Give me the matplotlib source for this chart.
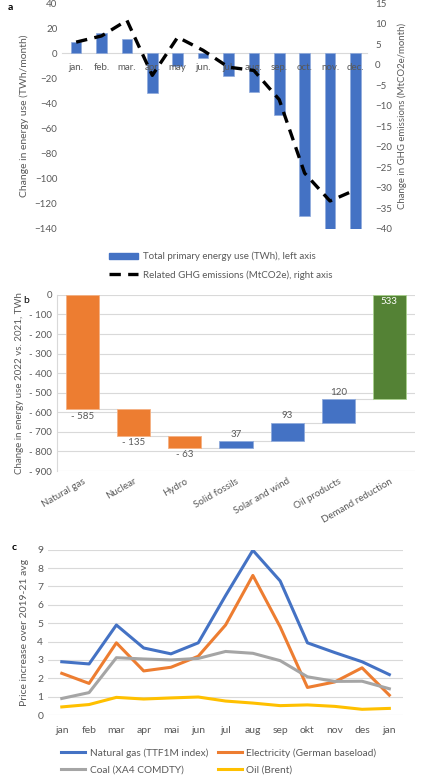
import matplotlib
matplotlib.use("Agg")
import matplotlib.pyplot as plt
from matplotlib.lines import Line2D
from matplotlib.patches import Patch

plt.rcParams['font.family'] = ['Lato', 'DejaVu Sans']

# --- panel a data
months_a = ['jan.', 'feb.', 'mar.', 'apr.', 'may', 'jun.', 'jul.', 'aug.', 'sep.', 'oct.', 'nov.', 'dec.']
energy_twh = [9, 16, 11, -32, -10, -4, -18, -31, -49, -130, -140, -140]
ghg_mt = [5.5, 7.0, 10.8, -2.6, 6.7, 3.5, -0.6, -1.4, -8.5, -26.4, -33.2, -30.5]

# --- panel b data
sources = ['Natural gas', 'Nuclear', 'Hydro', 'Solid fossils', 'Solar and wind',
           'Oil products', 'Demand reduction']
deltas = [-585, -135, -63, 37, 93, 120, 533]

# --- panel c data
months_c = ['jan', 'feb', 'mar', 'apr', 'mai', 'jun', 'jul', 'aug', 'sep', 'okt', 'nov', 'des', 'jan']
gas = [2.9, 2.78, 4.9, 3.65, 3.33, 3.93, 6.5, 8.97, 7.3, 3.93, 3.4, 2.9, 2.2]
power = [2.27, 1.72, 3.93, 2.4, 2.6, 3.2, 4.9, 7.6, 4.8, 1.5, 1.8, 2.57, 1.08]
coal = [0.9, 1.22, 3.12, 3.05, 3.0, 3.08, 3.46, 3.36, 2.96, 2.08, 1.83, 1.84, 1.43]
oil = [0.44, 0.57, 0.96, 0.87, 0.93, 0.98, 0.76, 0.65, 0.51, 0.55, 0.47, 0.31, 0.36]

BLUE = '#4472C4'
ORANGE = '#ED7D31'
GREEN = '#548235'
GREY = '#A5A5A5'
GOLD = '#FFC000'
TXT = '#595959'
GRID = '#D9D9D9'

fig = plt.figure(figsize=(4.26, 7.76), dpi=100)

# ================= panel a
ax = fig.add_axes([0.146, 0.705, 0.715, 0.291])
xa = range(len(months_a))
ax.bar(xa, energy_twh, width=0.42, color=BLUE, edgecolor='#8FAADC', linewidth=0.5, zorder=1)
ax.set_ylim(-140, 40)
ax.set_yticks(range(-140, 41, 20))
ax.set_xlim(-0.55, 11.45)
ax.set_xticks(list(xa))
ax.set_xticklabels(months_a)
for s in ['top', 'right', 'left']:
    ax.spines[s].set_visible(False)
ax.spines['bottom'].set_position(('data', 0))
ax.spines['bottom'].set_color(GRID)
ax.spines['bottom'].set_zorder(0.5)
ax.xaxis.set_zorder(3)  # month labels sit on top of the bars
ax.tick_params(length=0, labelsize=7, colors=TXT)
ax.tick_params(axis='x', pad=7)
ax.set_ylabel('Change in energy use (TWh/month)', fontsize=7.5, color=TXT, labelpad=4)

ax2 = ax.twinx()
ax2.plot(list(xa), ghg_mt, color='black', lw=2.4, dashes=(3.4, 2.2), zorder=3)
ax2.set_ylim(-40, 15)
ax2.set_yticks(range(-40, 16, 5))
for s in ['top', 'right', 'left', 'bottom']:
    ax2.spines[s].set_visible(False)
ax2.tick_params(length=0, labelsize=7, colors=TXT, pad=6)
ax2.set_ylabel('Change in GHG emissions (MtCO2e/month)', fontsize=6.9, color=TXT, labelpad=4)

fig.text(8 / 426, 1 - 8 / 776, 'a', fontsize=7.5, fontweight='bold', va='center')

leg_a = fig.legend(
    [Patch(color=BLUE), Line2D([], [], color='black', lw=2.4, dashes=(3.4, 2.2))],
    ['Total primary energy use (TWh), left axis', 'Related GHG emissions (MtCO2e), right axis'],
    loc='upper left', bbox_to_anchor=(100 / 426, 1 - 243 / 776), frameon=False,
    fontsize=7, handlelength=3.0, handleheight=0.6, labelspacing=0.9, handletextpad=0.5)
for t in leg_a.get_texts():
    t.set_color(TXT)

# ================= panel b
bx = fig.add_axes([0.134, 0.393, 0.840, 0.227])
colors_b = [ORANGE, ORANGE, ORANGE, BLUE, BLUE, BLUE, GREEN]
edges_b = ['#F4B183', '#F4B183', '#F4B183', '#8FAADC', '#8FAADC', '#8FAADC', '#A9D18E']
w = 0.65
running = 0
for i, d in enumerate(deltas):
    bx.bar(i, d, bottom=running, width=w, color=colors_b[i], edgecolor=edges_b[i],
           linewidth=0.6, zorder=2)
    end = running + d
    if i == len(deltas) - 1:
        bx.text(i, end - 12, f'{d}', ha='center', va='top', fontsize=7, color='white')
    elif d < 0:
        bx.text(i, end - 12, f'- {abs(d)}', ha='center', va='top', fontsize=7, color=TXT)
    else:
        bx.text(i, end + 12, f'{d}', ha='center', va='bottom', fontsize=7, color=TXT)
    if i < len(deltas) - 1:
        bx.plot([i + w / 2, i + 1 - w / 2], [end, end], color=GRID, lw=0.8, zorder=1)
    running = end

bx.set_ylim(-900, 0)
bx.set_xlim(-0.5, 6.5)
yt = list(range(-900, 1, 100))
bx.set_yticks(yt)
bx.set_yticklabels(['0' if v == 0 else f'- {abs(v)}' for v in yt])
bx.set_xticks(range(len(sources)))
bx.set_xticklabels(sources, rotation=30, ha='right', rotation_mode='anchor')
bx.grid(axis='y', color=GRID, lw=0.8, zorder=0)
bx.set_axisbelow(True)
for s in ['top', 'right', 'bottom']:
    bx.spines[s].set_visible(False)
bx.spines['left'].set_color(GRID)
bx.tick_params(length=0, labelsize=7, colors=TXT)
bx.tick_params(axis='x', pad=4)
bx.set_ylabel('Change in energy use 2022 vs. 2021, TWh', fontsize=7, color=TXT, labelpad=4)
fig.text(23 / 426, 1 - 301 / 776, 'b', fontsize=7.5, va='center')

# ================= panel c
cx = fig.add_axes([0.113, 0.0786, 0.833, 0.213])
xc = list(range(len(months_c)))
l_gas, = cx.plot(xc, gas, color=BLUE, lw=2.2, label='Natural gas (TTF1M index)')
l_pow, = cx.plot(xc, power, color=ORANGE, lw=2.2, label='Electricity (German baseload)')
l_coal, = cx.plot(xc, coal, color=GREY, lw=2.2, label='Coal (XA4 COMDTY)')
l_oil, = cx.plot(xc, oil, color=GOLD, lw=2.2, label='Oil (Brent)')
cx.set_ylim(0, 9)
cx.set_yticks(range(0, 10))
cx.set_xlim(-0.5, 12.5)
cx.set_xticks(xc)
cx.set_xticklabels(months_c)
cx.grid(axis='y', color=GRID, lw=0.8)
cx.set_axisbelow(True)
for s in ['top', 'right', 'left', 'bottom']:
    cx.spines[s].set_visible(False)
cx.tick_params(length=0, labelsize=7.5, colors=TXT)
cx.tick_params(axis='x', pad=8)
cx.set_ylabel('Price increase over 2019-21 avg', fontsize=7.5, color=TXT, labelpad=6)
fig.text(12 / 426, 1 - 548 / 776, 'c', fontsize=7.5, fontweight='bold', va='center')

# ncol fills column-wise, so order handles to read row by row
hs = [l_gas, l_coal, l_pow, l_oil]
leg_c = fig.legend(hs, [h.get_label() for h in hs], loc='upper left',
                   bbox_to_anchor=(52 / 426, 1 - 739 / 776), ncol=2,
                   frameon=False, fontsize=7.3, handlelength=2.4, columnspacing=1.0,
                   labelspacing=0.75, handletextpad=0.4)
for t in leg_c.get_texts():
    t.set_color(TXT)

fig.savefig('out.png', dpi=100)
